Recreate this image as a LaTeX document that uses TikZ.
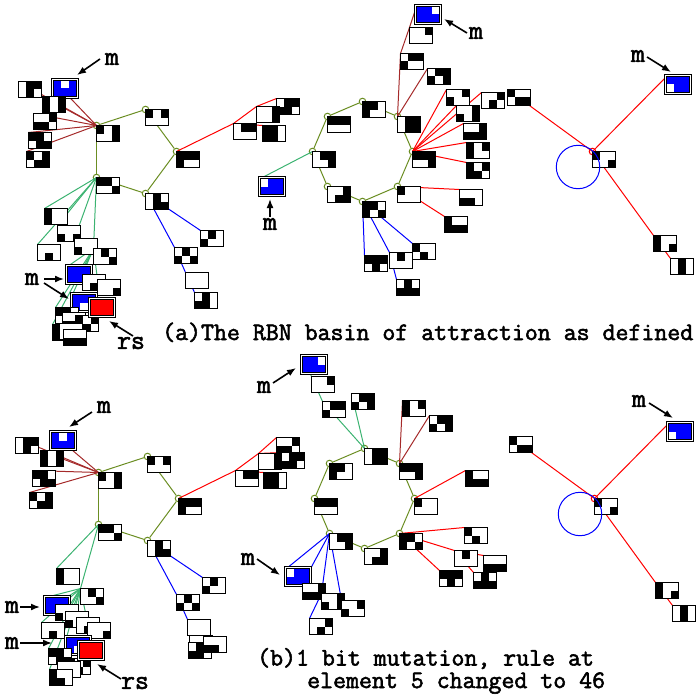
\documentclass[tikz,border=0pt]{standalone}
\usepackage{fontspec}
\usetikzlibrary{backgrounds,arrows.meta}
\newfontfamily\rbnfont[FakeBold=2.2]{Latin Modern Mono}
\definecolor{ringolive}{RGB}{107,142,35}
\definecolor{edgebrown}{RGB}{165,42,42}
\definecolor{edgegreen}{RGB}{60,179,113}
\tikzset{
  rbn/.style={draw,fill=white,line width=1pt,anchor=north west,inner sep=0pt,outer sep=0pt,minimum width=23pt,minimum height=16pt},
  rbnouter/.style={rbn,minimum width=27pt,minimum height=20pt},
  ring/.style={circle,draw=#1,line width=1pt,inner sep=0pt,minimum size=6.6pt},
  ring/.default=ringolive,
  cyc/.style={draw=ringolive,line width=1pt},
  brn/.style={draw=edgebrown,line width=1pt},
  grn/.style={draw=edgegreen,line width=1pt},
  rd/.style={draw=red,line width=1pt},
  blu/.style={draw=blue,line width=1pt},
  mark label/.style={font=\rbnfont\fontsize{27}{27}\selectfont,inner sep=0pt},
  caption/.style={font=\rbnfont\fontsize{25.15}{26}\selectfont,inner sep=0pt,anchor=base west},
  pointer/.style={-{Latex[length=9pt,width=7pt]},line width=1.6pt,black}
}
\newcommand{\rbncell}[5][black]{%
  \node[rbn](#2) at ({#3-.5},{#4-.5}){};
  \foreach \bit [count=\i from 0] in {#5}{%
    \ifnum\bit=1
      \pgfmathtruncatemacro{\cc}{mod(\i,3)}%
      \pgfmathtruncatemacro{\rr}{int(\i/3)}%
      \fill[#1] ({#3-1+\cc*8},{#4-1+\rr*8.5}) rectangle ++(8,8.5);
    \fi}
  \draw[line width=1pt] ({#3-.5},{#4-.5}) rectangle ++(23,16);
}
\newcommand{\rbndouble}[5][blue]{%
  \node[rbnouter](#2o) at ({#3-2.5},{#4-2.5}){};
  \rbncell[#1]{#2}{#3}{#4}{#5}
}
\begin{document}
\begin{tikzpicture}[x=1pt,y=-1pt]
\useasboundingbox (0,0) rectangle (700,698);

\rbncell{a0}{97}{126}{1,0,1,0,0,1}
\rbncell{a1}{146}{110}{1,0,1,0,0,0}
\rbncell{a2}{177}{152}{1,1,1,1,0,0}
\rbncell{a3}{146}{194}{0,1,0,0,1,1}
\rbncell{a4}{97}{178}{1,1,0,0,0,1}
\rbncell{ab1}{19}{82}{0,1,1,0,1,0}
\rbndouble{ab0}{54}{81}{1,0,1,1,1,1}
\rbncell{ab2}{43}{97}{1,0,1,1,0,1}
\rbncell{ab3}{34}{114}{0,0,1,1,1,0}
\rbncell{ab4}{27}{152}{1,0,1,0,1,1}
\rbncell{ab5}{29}{133}{1,1,0,0,1,1}
\rbncell{ac0}{234}{124}{0,1,1,0,0,0}
\rbncell{ac1}{277}{99}{0,1,1,1,1,0}
\rbncell{ac2}{257}{107}{0,0,1,0,0,1}
\rbncell{ac3}{263}{126}{1,1,0,1,1,0}
\rbncell{ad0}{201}{231}{0,1,0,1,0,0}
\rbncell{ad1}{175}{248}{0,1,0,1,0,1}
\rbncell{ad2}{186}{273}{0,0,0,0,0,0}
\rbncell{ad3}{195}{293}{0,1,0,1,1,0}
\rbncell{ae0}{45}{209}{1,0,0,1,0,0}
\rbncell{ae2}{38}{245}{0,0,0,0,1,0}
\rbncell{ae1}{58}{226}{0,0,0,1,0,1}
\rbncell{ae3}{75}{239}{0,0,0,1,0,0}
\rbncell{ae4}{94}{249}{0,1,0,0,0,1}
\rbndouble{ae5}{68}{267}{1,1,1,1,1,1}
\rbncell{ae6}{83}{275}{0,0,0,0,1,0}
\rbncell{ae7}{98}{280}{0,0,0,0,0,1}
\rbndouble{ae8}{73}{295}{1,1,1,1,0,1}
\rbncell{ae9}{56}{308}{1,1,0,0,1,1}
\rbncell{ae10}{63}{313}{0,0,0,1,1,0}
\rbncell{ae11}{76}{316}{1,0,1,0,1,0}
\rbncell{ae12}{53}{325}{1,0,0,1,1,0}
\rbncell{ae13}{60}{324}{0,0,0,0,0,0}
\rbncell{ae14}{64}{330}{0,0,0,1,1,1}
\rbndouble[red]{ars}{91}{300}{1,1,1,1,1,1}

\rbncell{g0}{363}{102}{1,1,0,1,0,0}
\rbncell{g1}{398}{117}{0,1,1,0,1,1}
\rbncell{g2}{413}{152}{1,1,1,0,0,1}
\rbncell{g3}{398}{187}{1,0,0,0,0,0}
\rbncell{g4}{363}{202}{1,1,0,1,0,1}
\rbncell{g5}{328}{187}{0,0,1,0,1,1}
\rbncell{g6}{313}{152}{0,1,1,0,0,1}
\rbncell{g7}{328}{117}{1,1,1,0,0,0}
\rbndouble{gm0}{261}{179}{0,1,1,1,1,1}
\rbncell{gb0}{401}{54}{0,1,1,1,0,0}
\rbncell{gb1}{428}{69}{0,1,1,1,0,1}
\rbncell{gb2}{410}{28}{0,0,1,0,0,0}
\rbndouble{gb3}{417}{7}{1,1,0,1,1,1}
\rbncell{gr0}{447}{90}{0,0,1,1,0,0}
\rbncell{gr1}{457}{106}{0,0,1,1,0,1}
\rbncell{gr2}{464}{124}{0,0,1,1,1,1}
\rbncell{gr3}{467}{143}{1,0,1,1,0,0}
\rbncell{gr4}{467}{163}{1,0,1,1,1,0}
\rbncell{gr5}{482}{93}{0,0,1,0,1,0}
\rbncell{gs0}{460}{190}{0,0,0,1,1,0}
\rbncell{gs1}{445}{217}{1,0,0,1,1,1}
\rbncell{gl3}{413}{244}{1,0,0,0,1,0}
\rbncell{gl0}{365}{256}{1,1,1,0,1,0}
\rbncell{gl1}{390}{253}{0,1,0,0,0,0}
\rbncell{gl2}{397}{280}{0,1,0,1,1,1}

\rbncell{k0}{593}{152}{1,0,0,0,0,1}
\rbndouble{k1}{667}{77}{1,1,1,0,1,1}
\rbncell{k2}{508}{90}{1,0,0,0,1,1}
\rbncell{k3}{654}{236}{1,0,0,1,0,1}
\rbncell{k4}{671}{259}{0,1,0,0,1,0}
\node[circle,draw=blue,line width=1pt,minimum size=43.4pt,inner sep=0pt](c0) at (578,167){};

\rbncell{b0}{99}{473}{1,0,1,0,0,1}
\rbncell{b1}{148}{457}{1,0,1,0,0,0}
\rbncell{b2}{179}{499}{1,1,1,1,0,0}
\rbncell{b3}{148}{541}{0,1,0,0,1,1}
\rbncell{b4}{99}{525}{1,1,0,0,0,1}
\rbncell{bb1}{16}{438}{0,1,1,0,1,0}
\rbndouble{bb0}{52}{433}{1,0,1,1,1,1}
\rbncell{bb2}{41}{451}{1,0,1,1,0,1}
\rbncell{bb3}{33}{471}{1,1,0,0,1,1}
\rbncell{bb4}{30}{493}{1,0,1,0,1,1}
\rbncell{bc0}{236}{471}{0,1,1,0,0,0}
\rbncell{bc1}{277}{438}{0,0,1,1,1,0}
\rbncell{bc2}{259}{454}{0,0,1,0,0,1}
\rbncell{bc4}{282}{453}{0,1,1,1,1,0}
\rbncell{bc3}{264}{473}{1,1,0,1,1,0}
\rbncell{bd0}{203}{578}{0,1,0,1,0,0}
\rbncell{bd1}{177}{595}{0,1,0,1,0,1}
\rbncell{bd2}{188}{620}{0,0,0,0,0,0}
\rbncell{bd3}{190}{636}{0,0,0,0,0,0}
\rbncell{bd4}{189}{643}{0,1,0,1,1,0}
\rbncell{bd5}{204}{637}{0,0,0,1,1,0}
\rbncell{be0}{57}{569}{1,0,0,1,0,0}
\rbncell{be1}{81}{589}{0,1,0,0,0,1}
\rbndouble{be2}{46}{598}{1,1,1,1,1,1}
\rbncell{be3}{56}{605}{0,0,0,1,0,0}
\rbncell{be4}{66}{612}{0,0,0,1,0,0}
\rbncell{be5}{77}{618}{0,0,0,0,1,0}
\rbncell{be6}{88}{623}{0,0,0,0,0,1}
\rbncell{be7}{42}{623}{0,0,0,0,1,0}
\rbndouble{be8}{67}{638}{1,1,1,1,0,1}
\rbncell{be9}{49}{649}{1,1,0,0,1,1}
\rbncell{be10}{68}{659}{1,0,1,0,1,0}
\rbncell{be11}{58}{662}{0,0,0,0,0,0}
\rbncell{be12}{50}{670}{1,0,0,1,1,0}
\rbndouble[red]{brs}{80}{643}{1,1,1,1,1,1}

\rbncell{p0}{365}{449}{0,1,1,0,1,1}
\rbncell{p1}{400}{464}{1,1,1,0,0,1}
\rbncell{p2}{415}{499}{1,0,0,0,0,0}
\rbncell{p3}{400}{534}{1,1,0,1,0,1}
\rbncell{p4}{365}{549}{0,0,1,0,1,1}
\rbncell{p5}{330}{534}{0,1,1,0,0,1}
\rbncell{p6}{315}{499}{1,1,1,0,0,0}
\rbncell{p7}{330}{464}{1,1,0,1,0,0}
\rbncell{pg0}{352}{394}{0,1,1,1,0,1}
\rbncell{pg1}{323}{402}{0,1,1,1,0,0}
\rbncell{pg2}{312}{377}{0,0,1,0,0,0}
\rbndouble{pg3}{303}{357}{1,1,0,1,1,1}
\rbncell{pb0}{403}{401}{1,0,1,1,0,0}
\rbncell{pb1}{430}{416}{0,1,1,1,0,1}
\rbncell{pr0}{466}{471}{1,0,0,1,1,1}
\rbncell{pr1}{465}{528}{1,0,0,0,1,0}
\rbncell{pr2}{455}{551}{0,1,0,0,0,0}
\rbncell{pr3}{440}{571}{1,1,1,0,1,0}
\rbncell{pr4}{484}{556}{0,0,0,1,1,1}
\rbncell{pr5}{474}{573}{0,1,0,1,1,1}
\rbndouble{ps0}{287}{569}{0,1,1,1,1,1}
\rbncell{ps1}{303}{584}{0,0,1,1,1,1}
\rbncell{ps2}{322}{594}{0,0,1,1,0,1}
\rbncell{ps3}{342}{601}{0,0,1,1,0,0}
\rbncell{ps4}{310}{619}{0,0,1,0,1,0}

\rbncell{t0}{595}{499}{1,0,0,0,0,1}
\rbndouble{t1}{669}{424}{1,1,1,0,1,1}
\rbncell{t2}{510}{437}{1,0,0,0,1,1}
\rbncell{t3}{656}{583}{1,0,0,1,0,1}
\rbncell{t4}{673}{606}{0,1,0,0,1,0}
\node[circle,draw=blue,line width=1pt,minimum size=43.4pt,inner sep=0pt](c1) at (580,514){};

\begin{pgfonlayer}{background}
\node[ring](ra0) at (a0.north west){};
\node[ring](ra1) at (a1.north west){};
\node[ring](ra2) at (a2.north west){};
\node[ring](ra3) at (a3.north west){};
\node[ring](ra4) at (a4.north west){};
\path[cyc](ra0)edge(ra1) (ra1)edge(ra2) (ra2)edge(ra3) (ra3)edge(ra4) (ra4)edge(ra0);
\path[brn](ra0.center)edge(ab0.north west) edge(ab1.north west) edge(ab2.north west) edge(ab3.north west) edge(ab4.north west) edge(ab5.north west);
\path[rd](ra2.center)edge(ac0.north west)
(ac0.north west)edge(ac2.north west) edge(ac3.north west)
(ac2.north west)edge(ac1.north west);
\path[blu](ra3.center)edge(ad0.north west) edge(ad1.north west)
(ad1.north west)edge(ad2.north west) (ad2.north west)edge(ad3.north west);
\path[grn](ra4.center)edge(ae0.north west) edge(ae1.north west) edge(ae2.north west) edge(ae3.north west) edge(ae4.north west)
(ae4.north west)edge(ae5.north west) edge(ae6.north west) edge(ae7.north west) edge(ae8.north west) edge(ae9.north west) edge(ae12.north west);

\node[ring](rg0) at (g0.north west){};
\node[ring](rg1) at (g1.north west){};
\node[ring](rg2) at (g2.north west){};
\node[ring](rg3) at (g3.north west){};
\node[ring](rg4) at (g4.north west){};
\node[ring](rg5) at (g5.north west){};
\node[ring](rg6) at (g6.north west){};
\node[ring](rg7) at (g7.north west){};
\path[cyc](rg0)edge(rg1) (rg1)edge(rg2) (rg2)edge(rg3) (rg3)edge(rg4) (rg4)edge(rg5) (rg5)edge(rg6) (rg6)edge(rg7) (rg7)edge(rg0);
\path[grn](rg6.center)edge(gm0.north west);
\path[brn](rg1.center)edge(gb0.north west) edge(gb1.north west)
(gb0.north west)edge(gb2.north west) (gb2.north west)edge(gb3.north west);
\path[rd](rg2.center)edge(gr0.north west) edge(gr1.north west) edge(gr2.north west) edge(gr3.north west) edge(gr4.north west) edge(gr5.north west);
\path[rd](rg3.center)edge(gs0.north west) edge(gs1.north west);
\path[blu](rg4.center)edge(gl0.north west) edge(gl1.north west) edge(gl3.north west)
(gl1.north west)edge(gl2.north west);

\node[ring=red](rk0) at (k0.north west){};
\path[rd](rk0.center)edge(k1.north west) edge(k2.north west) edge(k3.north west)
(k3.north west)edge(k4.north west);

\node[ring](rb0) at (b0.north west){};
\node[ring](rb1) at (b1.north west){};
\node[ring](rb2) at (b2.north west){};
\node[ring](rb3) at (b3.north west){};
\node[ring](rb4) at (b4.north west){};
\path[cyc](rb0)edge(rb1) (rb1)edge(rb2) (rb2)edge(rb3) (rb3)edge(rb4) (rb4)edge(rb0);
\path[brn](rb0.center)edge(bb0.north west) edge(bb1.north west) edge(bb2.north west) edge(bb3.north west) edge(bb4.north west);
\path[rd](rb2.center)edge(bc0.north west)
(bc0.north west)edge(bc2.north west) edge(bc3.north west)
(bc2.north west)edge(bc1.north west) edge(bc4.north west);
\path[blu](rb3.center)edge(bd0.north west) edge(bd1.north west)
(bd1.north west)edge(bd2.north west) (bd2.north west)edge(bd3.north west) edge(bd5.north west);
\path[grn](rb4.center)edge(be0.north west) edge(be1.north west)
(be1.north west)edge(be2.north west) edge(be3.north west) edge(be4.north west) edge(be5.north west) edge(be6.north west) edge(be7.north west) edge(be8.north west) edge(be9.north west) edge(be12.north west);

\node[ring](rp0) at (p0.north west){};
\node[ring](rp1) at (p1.north west){};
\node[ring](rp2) at (p2.north west){};
\node[ring](rp3) at (p3.north west){};
\node[ring](rp4) at (p4.north west){};
\node[ring](rp5) at (p5.north west){};
\node[ring](rp6) at (p6.north west){};
\node[ring](rp7) at (p7.north west){};
\path[cyc](rp0)edge(rp1) (rp1)edge(rp2) (rp2)edge(rp3) (rp3)edge(rp4) (rp4)edge(rp5) (rp5)edge(rp6) (rp6)edge(rp7) (rp7)edge(rp0);
\path[grn](rp0.center)edge(pg0.north west) edge(pg1.north west)
(pg1.north west)edge(pg2.north west) (pg2.north west)edge(pg3.north west);
\path[brn](rp1.center)edge(pb0.north west) edge(pb1.north west);
\path[rd](rp2.center)edge(pr0.north west);
\path[rd](rp3.center)edge(pr1.north west) edge(pr2.north west) edge(pr3.north west)
(pr2.north west)edge(pr4.north west) edge(pr5.north west);
\path[blu](rp5.center)edge(ps0.north west) edge(ps1.north west) edge(ps2.north west) edge(ps3.north west)
(ps2.north west)edge(ps4.north west);

\node[ring=red](rt0) at (t0.north west){};
\path[rd](rt0.center)edge(t1.north west) edge(t2.north west) edge(t3.north west)
(t3.north west)edge(t4.north west);
\end{pgfonlayer}

\node[mark label](m0) at (112,59){m};
\coordinate(m0s) at (100,59);
\coordinate(m0t) at (77,75);
\draw[pointer](m0s)--(m0t);
\node[mark label](m1) at (32,279){m};
\coordinate(m1s) at (44,279);
\coordinate(m1t) at (64,279);
\draw[pointer](m1s)--(m1t);
\coordinate(m2s) at (44,283);
\coordinate(m2t) at (69,299);
\draw[pointer](m2s)--(m2t);
\node[mark label](m3) at (131,343){rs};
\coordinate(m3s) at (133,336);
\coordinate(m3t) at (109,321);
\draw[pointer](m3s)--(m3t);
\node[mark label](m4) at (476,33){m};
\coordinate(m4s) at (467,33);
\coordinate(m4t) at (444,19);
\draw[pointer](m4s)--(m4t);
\node[mark label](m5) at (270,224){m};
\coordinate(m5s) at (270,217);
\coordinate(m5t) at (270,199);
\draw[pointer](m5s)--(m5t);
\node[mark label](m6) at (638,56){m};
\coordinate(m6s) at (647,57);
\coordinate(m6t) at (671,72);
\draw[pointer](m6s)--(m6t);
\node[mark label](m7) at (104,407){m};
\coordinate(m7s) at (92,412);
\coordinate(m7t) at (69,427);
\draw[pointer](m7s)--(m7t);
\node[mark label](m8) at (12,607){m};
\coordinate(m8s) at (20,607);
\coordinate(m8t) at (40,607);
\draw[pointer](m8s)--(m8t);
\node[mark label](m9) at (12,643){m};
\coordinate(m9s) at (20,643);
\coordinate(m9t) at (52,643);
\draw[pointer](m9s)--(m9t);
\node[mark label](m10) at (135,683){rs};
\coordinate(m10s) at (121,679);
\coordinate(m10t) at (97,664);
\draw[pointer](m10s)--(m10t);
\node[mark label](m11) at (264,387){m};
\coordinate(m11s) at (273,383);
\coordinate(m11t) at (296,368);
\draw[pointer](m11s)--(m11t);
\node[mark label](m12) at (248,559){m};
\coordinate(m12s) at (257,559);
\coordinate(m12t) at (280,575);
\draw[pointer](m12s)--(m12t);
\node[mark label](m13) at (639,401){m};
\coordinate(m13s) at (649,403);
\coordinate(m13t) at (673,418);
\draw[pointer](m13s)--(m13t);

\node[caption](cap0) at (162,340){(a)The RBN basin of attraction as defined};
\node[caption](cap1) at (257,665.5){(b)1 bit mutation, rule at};
\node[caption](cap2) at (307,688){element 5 changed to 46};
\end{tikzpicture}
\end{document}
